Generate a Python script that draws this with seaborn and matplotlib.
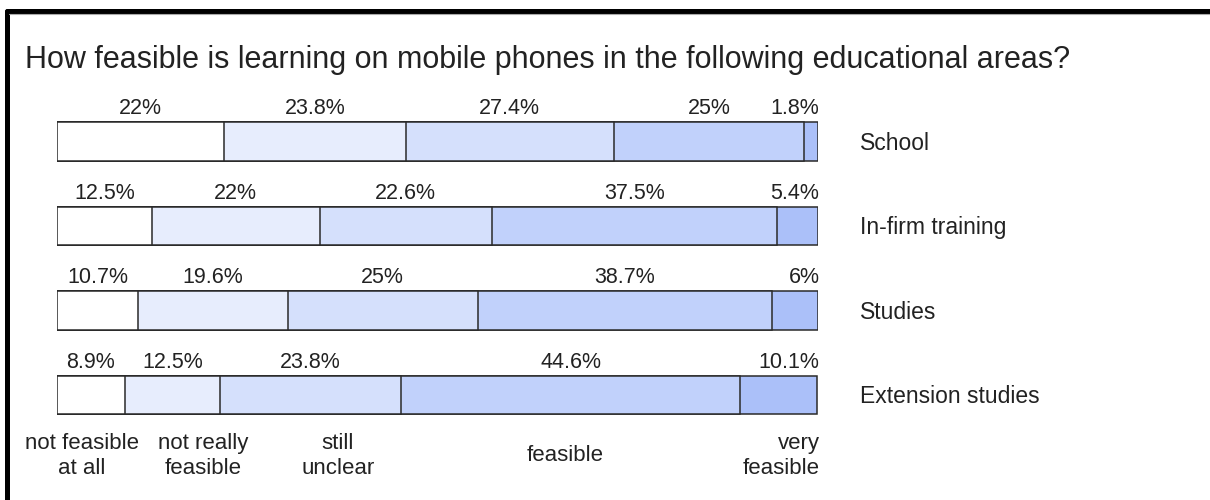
import pandas as pd
import matplotlib
matplotlib.use("Agg")
import matplotlib.pyplot as plt
from matplotlib.lines import Line2D
import seaborn as sns

# Survey answers, share of respondents in percent
areas = ["School", "In-firm training", "Studies", "Extension studies"]
levels = ["not feasible\nat all", "not really\nfeasible", "still\nunclear", "feasible", "very\nfeasible"]
not_feasible = [22, 12.5, 10.7, 8.9]
not_really = [23.8, 22, 19.6, 12.5]
unclear = [27.4, 22.6, 25, 23.8]
feasible = [25, 37.5, 38.7, 44.6]
very_feasible = [1.8, 5.4, 6, 10.1]

colors = ["#FFFFFF", "#E7EDFD", "#D5E0FC", "#C1D1FB", "#ABC0F9"]

df = pd.DataFrame({"area": areas, "l0": not_feasible, "l1": not_really,
                   "l2": unclear, "l3": feasible, "l4": very_feasible})
cols = ["l0", "l1", "l2", "l3", "l4"]
cum = df[cols].cumsum(axis=1)
cum["area"] = df["area"]

sns.set_style("white")
plt.rcParams["font.family"] = ["Liberation Sans", "DejaVu Sans"]

W, H = 1210, 500
fig = plt.figure(figsize=(W / 100, H / 100), dpi=100)
x0, x1 = 57, 818
ax = fig.add_axes([x0 / W, 0, (x1 - x0) / W, 1])

# stacked bars: draw widest cumulative first, shorter ones on top
for i in range(len(cols) - 1, -1, -1):
    sns.barplot(data=cum, x=cols[i], y="area", orient="h", color=colors[i],
                saturation=1, width=0.45, edgecolor="#2a2a2a", linewidth=1.1, ax=ax)

ax.set_xlim(0, 100)
row_gap = 84.5
top_c = 141.5
ax.set_ylim((H - top_c) / row_gap, -top_c / row_gap)
ax.axis("off")

fs = 15.5
# percentage labels above each segment
for r, area in enumerate(areas):
    start = 0
    vals = df.loc[r, cols].tolist()
    for j, v in enumerate(vals):
        mid = start + v / 2
        if j == len(vals) - 1:
            ax.text(100.2, r - 0.39, f"{v:g}%", ha="right", va="center", fontsize=fs, color="#222")
        else:
            ax.text(mid, r - 0.39, f"{v:g}%", ha="center", va="center", fontsize=fs, color="#222")
        start += v
    ax.text(105.5, r + 0.02, area, ha="left", va="center", fontsize=16.5, color="#222")

# answer labels under the bars
legend_x = [3.3, 19.2, 36.9, 66.8, 100.2]
for j, lab in enumerate(levels):
    ax.text(legend_x[j], 3.72, lab, ha="right" if j == 4 else "center", va="center",
            fontsize=16, color="#222", linespacing=1.25)

fig.text(25 / W, 1 - 60 / H, "How feasible is learning on mobile phones in the following educational areas?",
         ha="left", va="center", fontsize=22, color="#222")

# frame at top and left
fig.add_artist(Line2D([6.5 / W, 1], [1 - 11 / H, 1 - 11 / H], color="black", lw=3.6))
fig.add_artist(Line2D([6.5 / W, 6.5 / W], [0, 1 - 11 / H], color="black", lw=3.6))
fig.add_artist(Line2D([9 / W, 1], [1 - 14 / H, 1 - 14 / H], color="#aaaaaa", lw=0.8))

fig.savefig("out.png", dpi=100)
